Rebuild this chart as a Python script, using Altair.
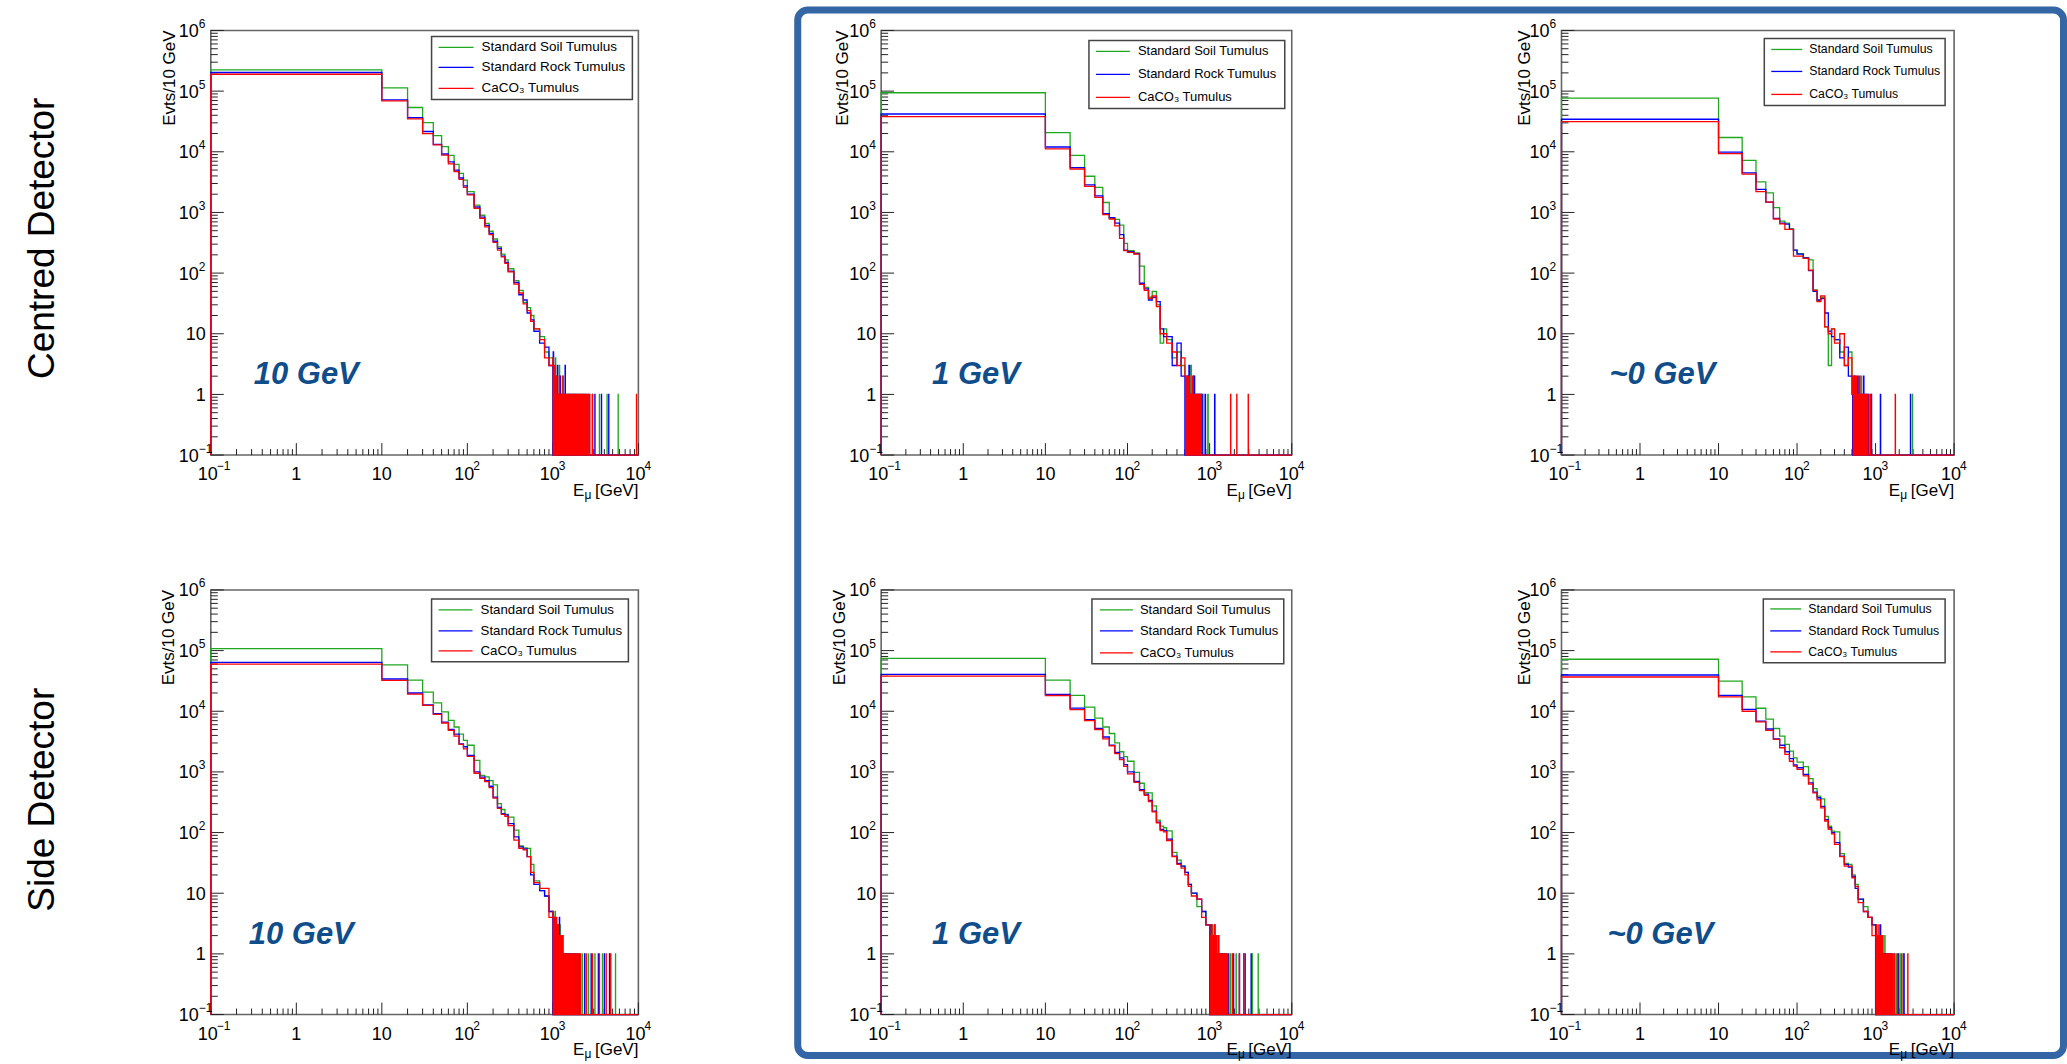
import altair as alt
import pandas as pd

# ---------------------------------------------------------------------------
# Muon energy spectra below three tumulus models, binned in 10 GeV.
# Resolved part: counts per bin edge list below (wider steps above 100 GeV).
# Tail: individual 10 GeV bins with entries (lower edge, count); other bins empty.
# ---------------------------------------------------------------------------
edges = [0, 10, 20, 30, 40, 50, 60, 70, 80, 90, 100, 120, 140, 160, 180, 200,
         225, 250, 275, 300, 350, 400, 450, 500, 550, 600, 700, 800, 900, 1000]

# Centred detector, 10 GeV threshold
cen10_soil = [224000, 113000, 53700, 30300, 18500, 12200, 8700, 6200, 4400, 3400,
              2200, 1320, 900, 660, 490, 365, 270, 205, 165, 118, 75, 52, 33, 27, 20, 12, 9, 5, 4]
cen10_rock = [203000, 72000, 36700, 21600, 13300, 9200, 6800, 5000, 3700, 2750,
              2000, 1230, 840, 610, 450, 335, 255, 190, 150, 108, 70, 44, 36, 22, 17, 11, 7, 6, 3]
cen10_caco3 = [190000, 69000, 35000, 20000, 13000, 8800, 6300, 4700, 3500, 2600,
               1950, 1170, 800, 580, 430, 320, 240, 185, 145, 105, 66, 47, 31, 24, 16, 12, 8, 4, 3]
cen10_soil_tail_e = [1000, 1030, 1070, 1100, 1150, 1190, 1250, 1300, 1370, 1420, 1500, 1560, 1640,
                     1720, 1810, 1890, 2000, 2110, 2230, 2380, 2560, 2900, 3500, 4300, 5800]
cen10_soil_tail_n = [3, 1, 4, 2, 1, 3, 1, 2, 1, 1, 1, 1, 1, 1, 1, 1, 1, 1, 1, 1, 1, 1, 1, 1, 1]
cen10_rock_tail_e = [1010, 1050, 1080, 1130, 1170, 1220, 1270, 1330, 1390, 1460, 1530, 1600, 1680,
                     1760, 1850, 1950, 2060, 2170, 2300, 2450, 2650, 3100, 3700, 4500]
cen10_rock_tail_n = [5, 2, 1, 3, 1, 2, 1, 1, 3, 1, 1, 1, 1, 1, 1, 1, 1, 1, 1, 1, 1, 1, 1, 1]
cen10_caco3_tail_e = [1000, 1020, 1050, 1080, 1110, 1150, 1190, 1230, 1270, 1310, 1350, 1390, 1430,
                      1470, 1510, 1550, 1590, 1630, 1680, 1720, 1770, 1820, 1870, 1920, 1980, 2040,
                      2100, 2170, 2240, 2310, 2390, 2480, 2580, 2700, 2900, 9500]
cen10_caco3_tail_n = [4, 2, 3, 1, 2, 1, 2, 1, 1, 2, 1, 1, 1, 1, 1, 1, 1, 1, 1, 1, 1, 1, 1, 1, 1, 1,
                      1, 1, 1, 1, 1, 1, 1, 1, 1, 1]

# Centred detector, 1 GeV threshold
cen1_soil = [94000, 20700, 8700, 3950, 2600, 1460, 800, 770, 620, 310,
             235, 215, 130, 58, 40, 50, 30, 7, 12, 8, 4, 5, 3]
cen1_rock = [42000, 12000, 5500, 2850, 1870, 960, 820, 665, 430, 240,
             225, 210, 68, 55, 36, 40, 34, 12, 9, 9, 3, 7, 2]
cen1_caco3 = [38000, 11200, 5200, 2700, 1770, 920, 780, 600, 375, 235,
              220, 205, 65, 52, 38, 42, 28, 10, 10, 7, 5, 3, 4]
cen1_soil_tail_e = [500, 520, 540, 570, 590, 620, 650, 680, 710, 740, 780, 820, 950]
cen1_soil_tail_n = [2, 1, 2, 1, 3, 1, 2, 1, 1, 1, 1, 1, 1]
cen1_rock_tail_e = [510, 530, 560, 580, 610, 640, 670, 700, 730, 760, 800, 880, 1150]
cen1_rock_tail_n = [1, 2, 3, 1, 1, 2, 1, 1, 1, 1, 1, 1, 1]
cen1_caco3_tail_e = [500, 520, 530, 550, 560, 580, 600, 620, 630, 650, 670, 690, 720, 750, 780,
                     1800, 2140, 2950]
cen1_caco3_tail_n = [2, 1, 2, 1, 2, 1, 1, 2, 1, 1, 1, 1, 1, 1, 1, 1, 1, 1]

# Centred detector, ~0 GeV threshold
cen0_soil = [76500, 17200, 7200, 3200, 2100, 1200, 720, 665, 535, 240,
             210, 180, 165, 53, 35, 40, 13, 3, 12, 8, 5, 3, 5]
cen0_rock = [34400, 9900, 4500, 2400, 1480, 800, 665, 640, 525, 240,
             205, 178, 110, 50, 36, 38, 22, 11, 9, 8, 4, 6, 2]
cen0_caco3 = [31500, 9300, 4300, 2200, 1480, 780, 650, 525, 525, 190,
              190, 175, 112, 52, 34, 42, 13, 10, 12, 7, 10, 3, 4]
cen0_soil_tail_e = [500, 520, 550, 580, 610, 650, 700, 760, 830, 2950]
cen0_soil_tail_n = [2, 1, 2, 1, 1, 2, 1, 1, 1, 1]
cen0_rock_tail_e = [500, 530, 560, 590, 620, 660, 700, 750, 800, 880, 1150, 2780]
cen0_rock_tail_n = [1, 2, 1, 2, 1, 1, 2, 1, 1, 1, 1, 1]
cen0_caco3_tail_e = [500, 510, 530, 540, 560, 580, 600, 620, 640, 660, 690, 720, 750, 790, 860, 1780]
cen0_caco3_tail_n = [2, 1, 2, 1, 2, 1, 1, 2, 1, 1, 1, 1, 1, 1, 1, 1]

# Side detector, 10 GeV threshold
side10_soil = [108000, 58000, 32700, 20700, 13700, 9800, 7100, 5500, 4200, 3300,
               2750, 1550, 880, 830, 720, 610, 300, 240, 200, 180, 110, 60, 56, 55, 30, 16, 11, 9, 5]
side10_rock = [64000, 34000, 20000, 12700, 9100, 6600, 5000, 4200, 2900, 2600,
               1870, 1000, 820, 720, 580, 385, 260, 205, 195, 140, 85, 58, 54, 40, 20, 14, 11, 9, 5]
side10_caco3 = [60000, 32400, 19200, 12500, 8900, 6400, 4850, 3900, 2850, 2400,
                1800, 950, 780, 690, 550, 370, 250, 200, 185, 130, 75, 55, 52, 40, 22, 15, 12, 12, 4]
side10_soil_tail_e = [1000, 1030, 1060, 1090, 1130, 1170, 1210, 1260, 1310, 1360, 1420, 1480, 1550,
                      1620, 1700, 1790, 1880, 1990, 2200, 2600, 3100, 3800, 4600, 5400]
side10_soil_tail_n = [4, 3, 5, 2, 3, 1, 3, 1, 2, 1, 1, 1, 1, 1, 1, 1, 1, 1, 1, 1, 1, 1, 1, 1]
side10_rock_tail_e = [1010, 1040, 1080, 1110, 1150, 1190, 1240, 1290, 1340, 1390, 1450, 1520, 1590,
                      1660, 1740, 1830, 1930, 2050, 2350, 2800, 3400, 4000, 4600]
side10_rock_tail_n = [3, 4, 2, 3, 1, 4, 2, 1, 1, 1, 1, 1, 1, 1, 1, 1, 1, 1, 1, 1, 1, 1, 1]
side10_caco3_tail_e = [1000, 1020, 1050, 1070, 1100, 1120, 1150, 1180, 1200, 1230, 1270, 1300, 1330,
                       1370, 1400, 1440, 1490, 1530, 1580, 1640, 1690, 1750, 1820, 1900, 1980, 2100,
                       2450, 2900, 3500, 4200, 4750]
side10_caco3_tail_n = [5, 3, 4, 2, 4, 1, 3, 2, 1, 2, 1, 2, 1, 1, 1, 1, 1, 1, 1, 1, 1, 1, 1, 1, 1, 1,
                       1, 1, 1, 1, 1]

# Side detector, 1 GeV threshold
side1_soil = [74600, 32700, 18300, 11700, 7700, 5500, 4300, 3000, 2150, 1780,
              1500, 980, 650, 455, 450, 275, 160, 128, 120, 107, 47, 35, 28, 22, 14, 10, 6, 5, 3]
side1_rock = [40600, 19000, 11300, 7300, 5200, 3760, 2750, 2100, 1700, 1320,
              1000, 700, 510, 430, 340, 225, 148, 113, 108, 78, 41, 31, 28, 22, 14, 10, 8, 5, 3]
side1_caco3 = [38000, 18200, 10600, 7000, 5000, 3500, 2700, 2000, 1600, 1230,
               930, 670, 490, 410, 325, 220, 145, 108, 103, 74, 40, 30, 26, 20, 13, 9, 8, 4, 3]
side1_soil_tail_e = [1000, 1030, 1060, 1090, 1130, 1170, 1210, 1250, 1300, 1350, 1400, 1460, 1530,
                     1620, 1800, 2100, 2600, 3300, 3900]
side1_soil_tail_n = [3, 2, 1, 3, 2, 1, 2, 1, 1, 1, 1, 1, 1, 1, 1, 1, 1, 1, 1]
side1_rock_tail_e = [1010, 1040, 1070, 1110, 1150, 1190, 1230, 1270, 1320, 1370, 1420, 1490, 1560,
                     1700, 1950, 2300, 2700, 3200]
side1_rock_tail_n = [2, 3, 1, 2, 3, 1, 1, 2, 1, 1, 1, 1, 1, 1, 1, 1, 1, 1]
side1_caco3_tail_e = [1000, 1020, 1040, 1060, 1080, 1100, 1120, 1150, 1180, 1200, 1230, 1260, 1290,
                      1330, 1360, 1400, 1440, 1480, 1530, 1580, 1650, 1900, 2300, 2600]
side1_caco3_tail_n = [3, 1, 2, 3, 1, 2, 1, 3, 1, 2, 1, 1, 2, 1, 1, 1, 1, 1, 1, 1, 1, 1, 1, 1]

# Side detector, ~0 GeV threshold
side0_soil = [72000, 31500, 17200, 11200, 7400, 5200, 3900, 2850, 2200, 1700,
              1450, 1220, 775, 530, 400, 360, 185, 127, 106, 103, 45, 31, 30, 20, 14, 8, 6, 4, 3]
side0_rock = [39600, 18300, 10700, 6900, 5100, 3500, 2750, 2150, 1650, 1300,
              1170, 910, 660, 465, 375, 270, 163, 120, 100, 68, 41, 30, 27, 19, 12, 8, 5, 4, 3]
side0_caco3 = [36700, 17200, 10000, 6700, 4850, 3450, 2500, 1950, 1500, 1250,
               1100, 860, 630, 450, 345, 255, 155, 113, 95, 64, 40, 28, 28, 18, 13, 7, 5, 4, 2]
side0_soil_tail_e = [1000, 1030, 1060, 1090, 1130, 1170, 1210, 1260, 1310, 1370, 1430, 1500, 1580,
                     1700, 1850, 2050, 2250]
side0_soil_tail_n = [2, 3, 1, 2, 1, 2, 1, 1, 2, 1, 1, 1, 1, 1, 1, 1, 1]
side0_rock_tail_e = [1010, 1040, 1080, 1110, 1150, 1190, 1230, 1280, 1330, 1390, 1450, 1520, 1600,
                     1750, 1950, 2300]
side0_rock_tail_n = [3, 1, 2, 1, 3, 1, 2, 1, 1, 1, 1, 1, 1, 1, 1, 1]
side0_caco3_tail_e = [1000, 1020, 1040, 1060, 1080, 1100, 1120, 1150, 1180, 1210, 1240, 1270, 1300,
                      1340, 1380, 1420, 1470, 1520, 1570, 1630, 1720, 1900, 2150, 2570]
side0_caco3_tail_n = [2, 3, 1, 2, 1, 3, 1, 2, 1, 2, 1, 1, 1, 1, 1, 1, 1, 1, 1, 1, 1, 1, 1, 1]

series_names = ["Standard Soil Tumulus", "Standard Rock Tumulus", "CaCO\u2083 Tumulus"]
series_colors = ["#1fa81f", "#0000ff", "#ff0000"]

# axis tick labels
x_major = [0.1, 1, 10, 100, 1000, 10000]
x_base = ["10", "1", "10", "10", "10", "10"]
x_exp = ["\u22121", "", "", "2", "3", "4"]
y_major = [0.1, 1, 10, 100, 1e3, 1e4, 1e5, 1e6]
y_base = ["10", "1", "10", "10", "10", "10", "10", "10"]
y_exp = ["\u22121", "", "", "2", "3", "4", "5", "6"]
x_minor = [k * 10.0 ** d for d in range(-1, 4) for k in range(2, 10)]
y_minor = [k * 10.0 ** d for d in range(-1, 6) for k in range(2, 10)]

# ---------------------------------------------------------------------------
# styling / layout
# ---------------------------------------------------------------------------
FONT = "Liberation Sans, Helvetica, Arial, sans-serif"
FRAME = "#666666"
TICK = "#222222"
ANN_COLOR = "#104e8b"
BOX_BLUE = "#3465a4"
PANEL_H = 425
FLOOR = 0.1
LINE_W = 1.3
COL_W = [208, 428, 243, 411, 270, 393]
ROW_H = [27, PANEL_H, 135, PANEL_H]

panels_cfg = [
    dict(w=428, box=(221, 6, 422, 69), rows=(17, 37, 58), line=(228, 263), tx=271, fs=13.5,
         ytx=-41, ann="10 GeV", ax=43, ay=354),
    dict(w=411, box=(208, 10, 404, 78), rows=(21, 44, 67), line=(215, 249), tx=257, fs=13,
         ytx=-38, ann="1 GeV", ax=51, ay=354),
    dict(w=393, box=(203, 8, 384, 75), rows=(19, 41, 64), line=(210, 241), tx=248, fs=12.3,
         ytx=-37, ann="~0 GeV", ax=48, ay=354),
    dict(w=428, box=(221, 9, 418, 72), rows=(20, 41, 61), line=(228, 262), tx=270, fs=13.3,
         ytx=-42, ann="10 GeV", ax=38, ay=354),
    dict(w=411, box=(211, 9, 403, 74), rows=(20, 41, 63), line=(219, 252), tx=259, fs=13,
         ytx=-41, ann="1 GeV", ax=51, ay=354),
    dict(w=393, box=(202, 9, 384, 73), rows=(19, 41, 62), line=(209, 240), tx=247, fs=12.3,
         ytx=-37, ann="~0 GeV", ax=46, ay=354),
]

ONE = pd.DataFrame({"k": [0]})


def step_points(levels, tail_e, tail_n):
    """Outline of a histogram: bins at zero count are drawn on the frame floor."""
    xs, ys = [0.1], [FLOOR]
    lows = [0.1] + edges[1:len(levels)]
    for lo, c in zip(lows, levels):
        xs.append(lo)
        ys.append(max(c, FLOOR))
    end = edges[len(levels)]
    for e, n in zip(tail_e, tail_n):
        if e > end:
            xs.append(end)
            ys.append(FLOOR)
        xs.append(e)
        ys.append(n)
        end = e + 10
    xs += [end, 1e4]
    ys += [FLOOR, FLOOR]
    return pd.DataFrame({"x": xs, "y": ys, "i": list(range(len(xs)))})


def text_mark(**kw):
    kw.setdefault("font", FONT)
    kw.setdefault("color", "black")
    return alt.Chart(ONE).mark_text(**kw)


def panel(cfg, hists):
    w, h = cfg["w"], PANEL_H
    xs = alt.Scale(type="log", domain=[0.1, 1e4], nice=False)
    ys = alt.Scale(type="log", domain=[0.1, 1e6], nice=False)
    layers = []

    # frame
    layers.append(alt.Chart(ONE).mark_rect(fill="white", stroke=FRAME, strokeWidth=1.6).encode(
        x=alt.value(0), x2=alt.value(w), y=alt.value(0), y2=alt.value(h)))

    # inward ticks
    xmaj = pd.DataFrame({"v": x_major})
    xmin = pd.DataFrame({"v": x_minor})
    ymaj = pd.DataFrame({"v": y_major})
    ymin = pd.DataFrame({"v": y_minor})
    layers.append(alt.Chart(xmaj).mark_rule(color=TICK, strokeWidth=1).encode(
        x=alt.X("v:Q", scale=xs, axis=None), y=alt.value(h), y2=alt.value(h - 12)))
    layers.append(alt.Chart(xmin).mark_rule(color=TICK, strokeWidth=1).encode(
        x=alt.X("v:Q", scale=xs, axis=None), y=alt.value(h), y2=alt.value(h - 6)))
    layers.append(alt.Chart(ymaj).mark_rule(color=TICK, strokeWidth=1).encode(
        y=alt.Y("v:Q", scale=ys, axis=None), x=alt.value(0), x2=alt.value(13)))
    layers.append(alt.Chart(ymin).mark_rule(color=TICK, strokeWidth=1).encode(
        y=alt.Y("v:Q", scale=ys, axis=None), x=alt.value(0), x2=alt.value(7)))

    # histograms: soil, rock, CaCO3 (last one on top)
    for (levels, te, tn), col in zip(hists, series_colors):
        layers.append(alt.Chart(step_points(levels, te, tn)).mark_line(
            interpolate="step-after", strokeWidth=LINE_W, color=col).encode(
            x=alt.X("x:Q", scale=xs, axis=None),
            y=alt.Y("y:Q", scale=ys, axis=None),
            order="i:Q"))

    # x tick labels
    xl = pd.DataFrame({"v": x_major, "base": x_base, "exp": x_exp})
    xl_e = xl[xl["exp"] != ""]
    xl_n = xl[xl["exp"] == ""]
    layers.append(alt.Chart(xl_e).mark_text(font=FONT, fontSize=18, align="center", baseline="alphabetic",
                                            dx=-3, color="black").encode(
        x=alt.X("v:Q", scale=xs, axis=None), y=alt.value(h + 25), text="base:N"))
    layers.append(alt.Chart(xl_e).mark_text(font=FONT, fontSize=12, align="left", baseline="alphabetic",
                                            dx=6, color="black").encode(
        x=alt.X("v:Q", scale=xs, axis=None), y=alt.value(h + 15), text="exp:N"))
    layers.append(alt.Chart(xl_n).mark_text(font=FONT, fontSize=18, align="center", baseline="alphabetic",
                                            color="black").encode(
        x=alt.X("v:Q", scale=xs, axis=None), y=alt.value(h + 25), text="base:N"))

    # y tick labels
    yl = pd.DataFrame({"v": y_major, "base": y_base, "exp": y_exp})
    yl_e = yl[yl["exp"] != ""]
    yl_n = yl[yl["exp"] == ""]
    layers.append(alt.Chart(yl_e).mark_text(font=FONT, fontSize=18, align="right", baseline="alphabetic",
                                            dy=6.5, color="black").encode(
        y=alt.Y("v:Q", scale=ys, axis=None), x=alt.value(-12), text="base:N"))
    layers.append(alt.Chart(yl_e).mark_text(font=FONT, fontSize=12, align="left", baseline="alphabetic",
                                            dy=-2.5, color="black").encode(
        y=alt.Y("v:Q", scale=ys, axis=None), x=alt.value(-12), text="exp:N"))
    layers.append(alt.Chart(yl_n).mark_text(font=FONT, fontSize=18, align="right", baseline="alphabetic",
                                            dy=6.5, color="black").encode(
        y=alt.Y("v:Q", scale=ys, axis=None), x=alt.value(-5), text="base:N"))

    # axis titles
    layers.append(text_mark(text="Evts/10 GeV", fontSize=17, angle=270, align="right",
                            baseline="middle").encode(x=alt.value(cfg["ytx"]), y=alt.value(0)))
    layers.append(text_mark(text="[GeV]", fontSize=17, align="right", baseline="alphabetic").encode(
        x=alt.value(w), y=alt.value(h + 41)))
    layers.append(text_mark(text="\u03bc", fontSize=12, align="right", baseline="alphabetic").encode(
        x=alt.value(w - 47), y=alt.value(h + 43.5)))
    layers.append(text_mark(text="E", fontSize=17, align="right", baseline="alphabetic").encode(
        x=alt.value(w - 54), y=alt.value(h + 41)))

    # legend
    bx0, by0, bx1, by1 = cfg["box"]
    layers.append(alt.Chart(ONE).mark_rect(fill="white", stroke="#444444", strokeWidth=1.5).encode(
        x=alt.value(bx0), x2=alt.value(bx1), y=alt.value(by0), y2=alt.value(by1)))
    lx0, lx1 = cfg["line"]
    for name, col, ry in zip(series_names, series_colors, cfg["rows"]):
        layers.append(alt.Chart(ONE).mark_rule(color=col, strokeWidth=LINE_W).encode(
            x=alt.value(lx0), x2=alt.value(lx1), y=alt.value(ry)))
        layers.append(text_mark(text=name, fontSize=cfg["fs"], align="left", baseline="middle").encode(
            x=alt.value(cfg["tx"]), y=alt.value(ry)))

    # threshold annotation
    layers.append(text_mark(text=cfg["ann"], fontSize=31, fontWeight="bold", fontStyle="italic",
                            color=ANN_COLOR, align="left", baseline="alphabetic").encode(
        x=alt.value(cfg["ax"]), y=alt.value(cfg["ay"])))

    return alt.layer(*layers).properties(width=w, height=h)


def spacer(w, h):
    return alt.Chart(ONE).mark_point(opacity=0).encode(
        x=alt.value(0), y=alt.value(0)).properties(width=w, height=h)


def row_label(text, w, h, y):
    return text_mark(text=text, fontSize=37, angle=270, align="center",
                     baseline="middle").encode(x=alt.value(40), y=alt.value(y)).properties(width=w, height=h)


hist_sets = [
    [(cen10_soil, cen10_soil_tail_e, cen10_soil_tail_n),
     (cen10_rock, cen10_rock_tail_e, cen10_rock_tail_n),
     (cen10_caco3, cen10_caco3_tail_e, cen10_caco3_tail_n)],
    [(cen1_soil, cen1_soil_tail_e, cen1_soil_tail_n),
     (cen1_rock, cen1_rock_tail_e, cen1_rock_tail_n),
     (cen1_caco3, cen1_caco3_tail_e, cen1_caco3_tail_n)],
    [(cen0_soil, cen0_soil_tail_e, cen0_soil_tail_n),
     (cen0_rock, cen0_rock_tail_e, cen0_rock_tail_n),
     (cen0_caco3, cen0_caco3_tail_e, cen0_caco3_tail_n)],
    [(side10_soil, side10_soil_tail_e, side10_soil_tail_n),
     (side10_rock, side10_rock_tail_e, side10_rock_tail_n),
     (side10_caco3, side10_caco3_tail_e, side10_caco3_tail_n)],
    [(side1_soil, side1_soil_tail_e, side1_soil_tail_n),
     (side1_rock, side1_rock_tail_e, side1_rock_tail_n),
     (side1_caco3, side1_caco3_tail_e, side1_caco3_tail_n)],
    [(side0_soil, side0_soil_tail_e, side0_soil_tail_n),
     (side0_rock, side0_rock_tail_e, side0_rock_tail_n),
     (side0_caco3, side0_caco3_tail_e, side0_caco3_tail_n)],
]
P = [panel(c, hs) for c, hs in zip(panels_cfg, hist_sets)]

# rounded box around the 1 GeV and ~0 GeV columns (drawn from the cell at x=636)
blue_box = alt.Chart(ONE).mark_rect(fillOpacity=0, stroke=BOX_BLUE, strokeWidth=7, cornerRadius=10).encode(
    x=alt.value(159.5), x2=alt.value(1426.5), y=alt.value(6.5), y2=alt.value(1053)
).properties(width=COL_W[2], height=ROW_H[0])

cells = [
    spacer(COL_W[0], ROW_H[0]), spacer(COL_W[1], ROW_H[0]), blue_box,
    spacer(COL_W[3], ROW_H[0]), spacer(COL_W[4], ROW_H[0]), spacer(COL_W[5], ROW_H[0]),

    row_label("Centred Detector", COL_W[0], ROW_H[1], 208), P[0], spacer(COL_W[2], ROW_H[1]),
    P[1], spacer(COL_W[4], ROW_H[1]), P[2],

    spacer(COL_W[0], ROW_H[2]), spacer(COL_W[1], ROW_H[2]), spacer(COL_W[2], ROW_H[2]),
    spacer(COL_W[3], ROW_H[2]), spacer(COL_W[4], ROW_H[2]), spacer(COL_W[5], ROW_H[2]),

    row_label("Side Detector", COL_W[0], ROW_H[3], 210), P[3], spacer(COL_W[2], ROW_H[3]),
    P[4], spacer(COL_W[4], ROW_H[3]), P[5],
]

chart = alt.concat(*cells, columns=6, spacing=0, bounds="flush").properties(
    padding=0, background="white"
).configure_view(strokeOpacity=0)

chart.save("out.html", embed_options={"renderer": "svg", "actions": False})
